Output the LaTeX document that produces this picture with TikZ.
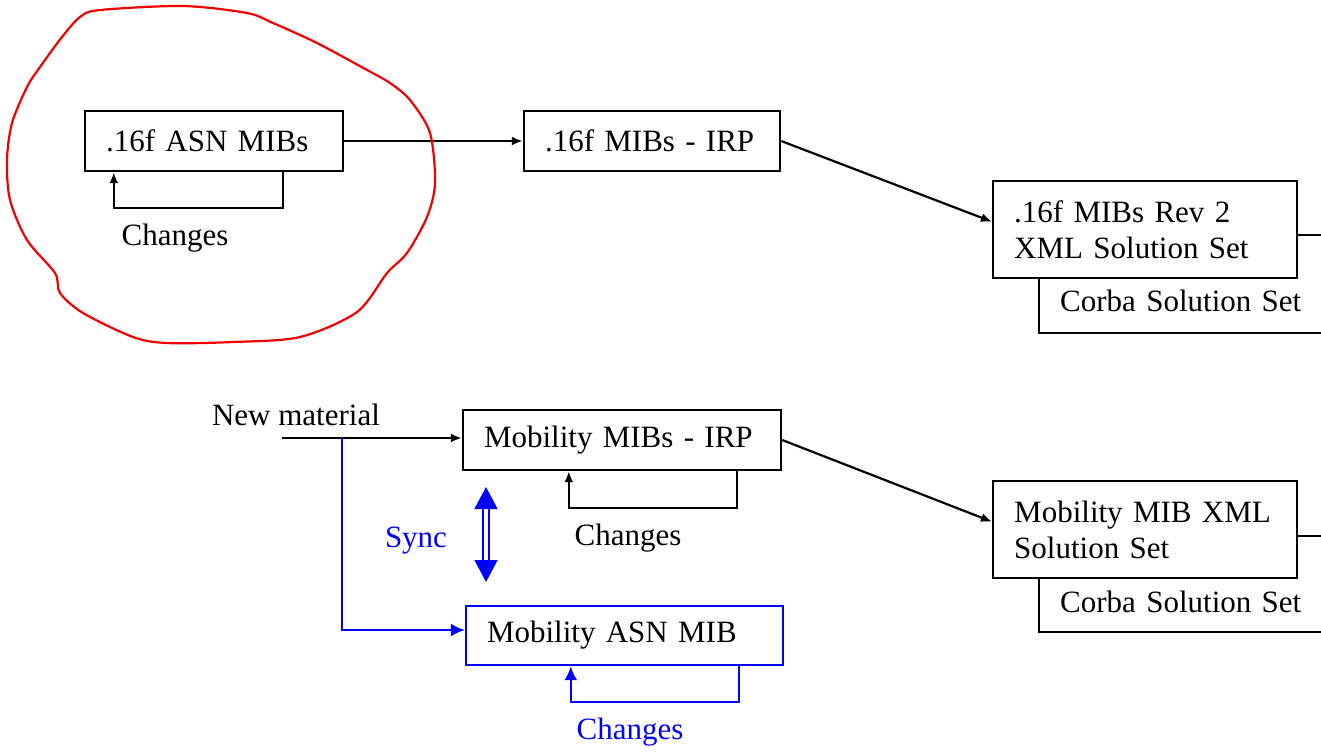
\documentclass[tikz,border=0pt]{standalone}
\usepackage{fontspec}
\setmainfont{Liberation Serif}
\usetikzlibrary{arrows.meta}

\definecolor{syncblue}{RGB}{0,0,255}
\definecolor{ringred}{RGB}{240,0,0}

\tikzset{
  box/.style={draw, line width=1.2pt, fill=white, text width=#1, align=left,
    inner xsep=10.5pt, minimum height=30pt},
  back/.style={box=#1, anchor=north west, inner ysep=0pt, text height=38pt},
  flow/.style={line width=1.1pt, -{Latex[length=5.5pt,width=4.5pt]}},
  bflow/.style={flow, syncblue, line width=0.9pt, -{Latex[length=7pt,width=6.5pt]}},
  sync/.style={syncblue, double, line width=0.7pt, double distance=2.2pt,
    {Triangle[length=11pt,width=11.5pt]}-{Triangle[length=11pt,width=11.5pt]}},
  ring/.style={ringred, line width=1.1pt}
}

\begin{document}
\begin{tikzpicture}[x=0.5pt, y=-0.5pt, font=\fontsize{15.5}{18}\selectfont]
  \useasboundingbox (0,0) rectangle (1321,752);
  \clip (0,0) rectangle (1321,752);

  % upper row
  \node[box=108pt] (asn) at (214,141) {.16f ASN MIBs};
  \node[box=107pt] (irp) at (652,141) {.16f MIBs - IRP};
  \node[back=140pt, text depth=11pt] (corba) at (1038,234) {Corba Solution Set};
  \node[box=131pt, anchor=north west, minimum height=48.5pt] (xml) at (992,180)
    {.16f MIBs Rev 2\\XML Solution Set};
  \node (chgasn) at (175,238) {Changes};

  \draw[flow] (asn) -- (irp);
  \draw[flow] (irp.east) -- ([yshift=4pt]xml.west);
  \draw[flow] ([xshift=-30.5pt]asn.south east) -- ++(0,36) -| ([xshift=15pt]asn.south west);

  % lower row
  \node (newmat) at (296,415) {New material};
  \coordinate (nm) at (282,438);
  \coordinate (br) at (342,438);
  \node[box=138pt] (mobirp) at (622,440) {Mobility MIBs - IRP};
  \node[back=140pt, text depth=10pt] (mobcorba) at (1038,535) {Corba Solution Set};
  \node[box=131pt, anchor=north west, minimum height=48.5pt] (mobxml) at (992,480)
    {Mobility MIB XML\\Solution Set};
  \node[box=137.5pt, draw=syncblue, minimum height=29.5pt] (mobasn)
    at (624.5,635.5) {Mobility ASN MIB};
  \node (chgirp) at (628,538) {Changes};
  \node[text=syncblue] (chgmob) at (630,732) {Changes};
  \node[text=syncblue] (synctxt) at (416,541) {Sync};
  \coordinate (s1) at (486,487);
  \coordinate (s2) at (486,582);

  \draw[flow] (nm) -- (nm -| mobirp.west);
  \draw[flow] (mobirp.east) -- ([yshift=4pt]mobxml.west);
  \draw[flow] ([xshift=-22.5pt]mobirp.south east) -- ++(0,37) -| ([xshift=53.5pt]mobirp.south west);
  \draw[bflow] (br) |- ([yshift=2.75pt]mobasn.west);
  \draw[bflow, line width=1.2pt] ([xshift=-22.5pt]mobasn.south east) -- ++(0,36) -| ([xshift=53pt]mobasn.south west);
  \draw[sync] (s1) -- (s2);

  % hand drawn ring
  \draw[ring] plot[smooth cycle, tension=0.5] coordinates {
    (62,37) (80,17) (100,10) (183,6) (247,13) (273,23) (317,43) (367,70)
    (390,83) (410,100) (430,133) (435,183) (427,217) (407,253) (387,273)
    (357,312) (300,337) (233,342) (167,343) (133,337) (83,313) (60,293)
    (55,273) (27,240) (10,200) (7,160) (12,123) (27,87) (40,67)};
\end{tikzpicture}
\end{document}
